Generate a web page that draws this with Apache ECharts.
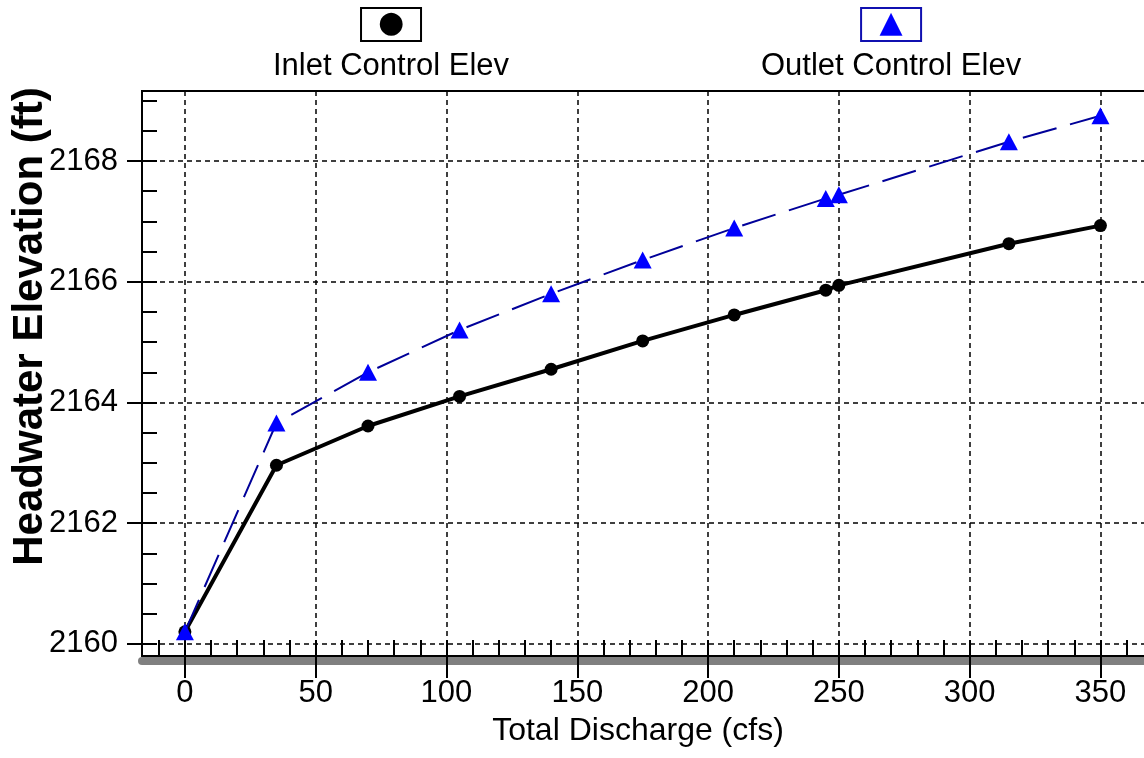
<!DOCTYPE html>
<html>
<head>
<meta charset="utf-8">
<title>Headwater Elevation</title>
<script src="https://cdn.jsdelivr.net/npm/echarts@6.0.0/dist/echarts.min.js"></script>
<style>
  html, body { margin: 0; padding: 0; background: #fff; }
  #chart { width: 1144px; height: 758px; }
</style>
</head>
<body>
<div id="chart"></div>
<script>
// 数据
const discharge = [0, 35, 70, 105, 140, 175, 210, 245, 250, 315, 350];
const inletElev = [2160.2, 2162.96, 2163.61, 2164.1, 2164.55, 2165.02, 2165.45, 2165.86, 2165.94, 2166.63, 2166.93];
const outletElev = [2160.2, 2163.66, 2164.5, 2165.2, 2165.8, 2166.36, 2166.89, 2167.38, 2167.44, 2168.32, 2168.75];

// 刻度
const xMajor = [0, 50, 100, 150, 200, 250, 300, 350];
const xMinor = [-10, 0, 10, 20, 30, 40, 50, 60, 70, 80, 90, 100, 110, 120, 130, 140, 150, 160, 170, 180, 190,
  200, 210, 220, 230, 240, 250, 260, 270, 280, 290, 300, 310, 320, 330, 340, 350, 360, 370];
const yMajor = [2160, 2162, 2164, 2166, 2168];
const yMinor = [2160, 2160.5, 2161, 2161.5, 2162, 2162.5, 2163, 2163.5, 2164, 2164.5, 2165, 2165.5,
  2166, 2166.5, 2167, 2167.5, 2168, 2168.5, 2169];

const seriesNames = ['Inlet Control Elev', 'Outlet Control Elev'];

const xRange = [-16.4, 374.3];
const yRange = [2159.8, 2169.16];

const font = 'Liberation Sans, Arial, sans-serif';
const gridDash = { color: '#000', width: 1.5, type: [5, 4] };

const myChart = echarts.init(document.getElementById('chart'));

// 图例：图标在上，文字在下
const makeLegend = (name, left, glyph, glyphColor, boxColor) => ({
  data: [name],
  left: left,
  top: 7,
  padding: 0,
  itemWidth: 0,
  itemHeight: 0,
  selectedMode: false,
  formatter: n => '{box|' + glyph + '}\n{lbl|' + n + '}',
  textStyle: {
    rich: {
      box: {
        width: 60,
        height: 33,
        lineHeight: 37,
        align: 'center',
        verticalAlign: 'middle',
        borderColor: boxColor,
        borderWidth: 2,
        color: glyphColor,
        fontSize: 30,
        fontFamily: 'DejaVu Sans'
      },
      lbl: {
        fontSize: 31,
        lineHeight: 46,
        color: '#000',
        fontFamily: font,
        align: 'center'
      }
    }
  }
});

const options = {
  animation: false,
  backgroundColor: '#fff',
  legend: [
    makeLegend(seriesNames[0], 267, '●', '#000', '#000'),
    makeLegend(seriesNames[1], 755, '▲', '#0000ff', '#1010b0')
  ],
  grid: {
    left: 142,
    top: 91,
    right: -20,
    bottom: 102,
    show: true,
    borderColor: '#000',
    borderWidth: 2,
    backgroundColor: 'transparent',
    outerBoundsMode: 'none'
  },
  xAxis: [
    // 底部灰色阴影
    {
      type: 'value', min: xRange[0], max: xRange[1], position: 'bottom', offset: 5,
      axisLine: { show: true, onZero: false, lineStyle: { color: '#808080', width: 8 } },
      axisTick: { show: false }, axisLabel: { show: false }, splitLine: { show: false }
    },
    {
      type: 'value', min: xRange[0], max: xRange[1], position: 'bottom',
      name: 'Total Discharge (cfs)',
      nameLocation: 'middle',
      nameGap: 59,
      nameMoveOverlap: false,
      nameTextStyle: { fontSize: 32, color: '#000', fontFamily: font, padding: [0, 30, 0, 0] },
      axisLine: { show: true, onZero: false, lineStyle: { color: '#000', width: 2 } },
      axisTick: { show: true, customValues: xMajor, length: 22, lineStyle: { color: '#000', width: 2 } },
      axisLabel: { show: true, customValues: xMajor, fontSize: 31, color: '#000', fontFamily: font, margin: 22 },
      splitLine: { show: true, lineStyle: gridDash }
    },
    // 次刻度（朝内）
    {
      type: 'value', min: xRange[0], max: xRange[1], position: 'bottom',
      axisLine: { show: false, onZero: false },
      axisTick: { show: true, inside: true, customValues: xMinor, length: 16, lineStyle: { color: '#000', width: 2 } },
      axisLabel: { show: false }, splitLine: { show: false }
    }
  ],
  yAxis: [
    {
      type: 'value', min: yRange[0], max: yRange[1], position: 'left',
      name: 'Headwater Elevation (ft)',
      nameLocation: 'middle',
      nameGap: 91,
      nameRotate: 90,
      nameMoveOverlap: false,
      nameTextStyle: { fontSize: 42, fontWeight: 'bold', color: '#000', fontFamily: font, padding: [0, 0, 0, 94] },
      axisLine: { show: true, onZero: false, lineStyle: { color: '#000', width: 2 } },
      axisTick: { show: true, customValues: yMajor, length: 15, lineStyle: { color: '#000', width: 2 } },
      axisLabel: {
        show: true, customValues: yMajor, fontSize: 31, color: '#000', fontFamily: font, margin: 24,
        formatter: v => String(v)
      },
      splitLine: { show: true, lineStyle: gridDash }
    },
    {
      type: 'value', min: yRange[0], max: yRange[1], position: 'left',
      axisLine: { show: false, onZero: false },
      axisTick: { show: true, inside: true, customValues: yMinor, length: 15, lineStyle: { color: '#000', width: 2 } },
      axisLabel: { show: false }, splitLine: { show: false }
    }
  ],
  series: [
    {
      name: seriesNames[0],
      type: 'line',
      xAxisIndex: 1,
      yAxisIndex: 0,
      data: discharge.map((x, i) => [x, inletElev[i]]),
      symbol: 'circle',
      symbolSize: 13,
      itemStyle: { color: '#000' },
      lineStyle: { color: '#000', width: 4 },
      z: 3
    },
    {
      name: seriesNames[1],
      type: 'line',
      xAxisIndex: 1,
      yAxisIndex: 0,
      data: discharge.map((x, i) => [x, outletElev[i]]),
      symbol: 'triangle',
      symbolSize: [18, 17],
      itemStyle: { color: '#0000ff' },
      lineStyle: { color: '#000099', width: 2, type: [35, 14] },
      z: 4
    }
  ]
};

myChart.setOption(options);
</script>
</body>
</html>
